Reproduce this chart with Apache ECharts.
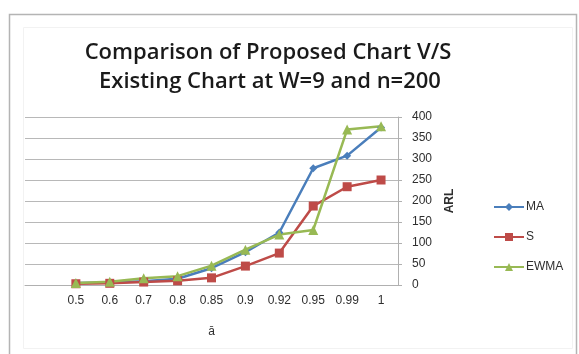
<!DOCTYPE html>
<html>
<head>
<meta charset="utf-8">
<script src="https://cdn.jsdelivr.net/npm/echarts@6/dist/echarts.min.js"></script>
<style>
  html, body { margin: 0; padding: 0; background: #ffffff; }
  #chart { width: 579px; height: 354px; }
</style>
</head>
<body>
<div id="chart"></div>
<script>
// Category axis: a leading blank slot, then the a values
const categories = ['', '0.5', '0.6', '0.7', '0.8', '0.85', '0.9', '0.92', '0.95', '0.99', '1'];

// ARL values per chart type
const maValues   = [null, 5, 6, 9, 15, 40, 78, 125, 278, 308, 375];
const sValues    = [null, 3, 4, 7, 10, 17, 45, 76, 188, 234, 250];
const ewmaValues = [null, 5, 8, 16, 21, 46, 84, 120, 131, 370, 378];

// ARL axis ticks
const yMin = 0, yMax = 400, yStep = 50;

const titleLines = ['Comparison of Proposed Chart V/S', 'Existing Chart at W=9 and n=200'];

const chart = echarts.init(document.getElementById('chart'), null, { renderer: 'canvas' });

const labelFont = { fontFamily: 'Liberation Sans', fontSize: 12, color: '#2e2e2e' };

function makeSeries(name, data, color, symbol, size) {
  return {
    name: name,
    type: 'line',
    data: data,
    symbol: symbol,
    symbolSize: size,
    connectNulls: false,
    lineStyle: { color: color, width: 2.5 },
    itemStyle: { color: color },
    emphasis: { disabled: true }
  };
}

chart.setOption({
  animation: false,
  backgroundColor: '#ffffff',
  graphic: [
    {
      type: 'rect',
      shape: { x: 9.5, y: 14.5, width: 567, height: 345 },
      style: { fill: 'none', stroke: '#b4b4b4', lineWidth: 1.5 },
      silent: true
    },
    {
      type: 'rect',
      shape: { x: 23.5, y: 27.5, width: 549, height: 321 },
      style: { fill: 'none', stroke: '#f2f2f2', lineWidth: 1 },
      silent: true
    },
    {
      type: 'text',
      x: 268, y: 53,
      style: {
        text: titleLines[0],
        fontFamily: 'Open Sans', fontWeight: 600, fontSize: 22,
        fill: '#1a1a1a', align: 'center', verticalAlign: 'middle'
      },
      silent: true
    },
    {
      type: 'text',
      x: 270, y: 82,
      style: {
        text: titleLines[1],
        fontFamily: 'Open Sans', fontWeight: 600, fontSize: 22,
        fill: '#1a1a1a', align: 'center', verticalAlign: 'middle'
      },
      silent: true
    }
  ],
  grid: { left: 25, right: 181, top: 117, bottom: 69, containLabel: false },
  legend: {
    orient: 'vertical',
    left: 488,
    top: 196,
    itemWidth: 30,
    itemHeight: 10,
    itemGap: 18,
    textStyle: { fontFamily: 'Liberation Sans', fontSize: 12, color: '#2e2e2e', padding: [0, 0, 0, -3] },
    data: ['MA', 'S', 'EWMA']
  },
  xAxis: {
    type: 'category',
    data: categories,
    boundaryGap: true,
    name: 'ā',
    nameLocation: 'middle',
    nameGap: 41,
    nameTextStyle: { fontFamily: 'Liberation Sans', fontSize: 12, color: '#2e2e2e' },
    axisLine: { show: true, lineStyle: { color: '#b0b0b0', width: 1 } },
    axisTick: { show: false },
    axisLabel: Object.assign({ margin: 10, interval: 0 }, labelFont),
    splitLine: { show: false }
  },
  yAxis: {
    type: 'value',
    position: 'right',
    min: yMin,
    max: yMax,
    interval: yStep,
    name: 'ARL',
    nameLocation: 'middle',
    nameRotate: 90,
    nameGap: 46,
    nameTextStyle: { fontFamily: 'Liberation Sans', fontSize: 12, fontWeight: 'bold', color: '#2e2e2e' },
    axisLine: { show: true, lineStyle: { color: '#b0b0b0', width: 1 } },
    axisTick: { show: true, inside: false, length: 4, lineStyle: { color: '#b0b0b0' } },
    axisLabel: Object.assign({ margin: 14, align: 'left' }, labelFont),
    splitLine: { show: true, lineStyle: { color: '#b8b8b8', width: 1 } }
  },
  series: [
    makeSeries('MA', maValues, '#4a7ebb', 'diamond', 8),
    makeSeries('S', sValues, '#be4b48', 'rect', 9),
    makeSeries('EWMA', ewmaValues, '#98b954', 'triangle', 10)
  ]
});
</script>
</body>
</html>
